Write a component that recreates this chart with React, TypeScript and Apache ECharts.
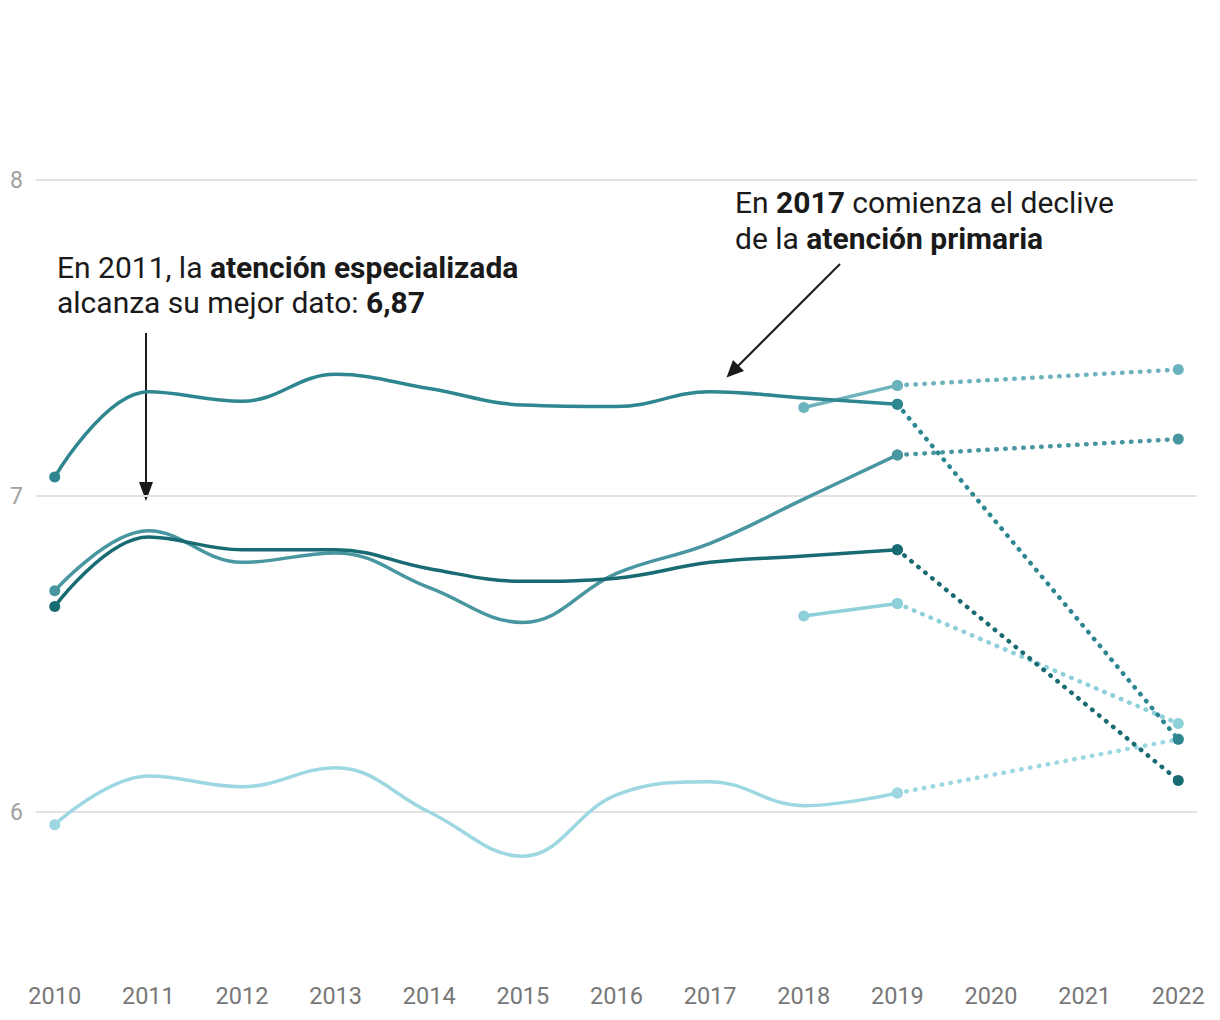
import React, { useEffect, useRef } from "react";
import * as echarts from "echarts";

const years = [2010, 2011, 2012, 2013, 2014, 2015, 2016, 2017, 2018, 2019];
const yearTicks = [2010, 2011, 2012, 2013, 2014, 2015, 2016, 2017, 2018, 2019, 2020, 2021, 2022];
const yTickLabels = [6, 7, 8];

// solid series (2010-2019)
const primaria = [7.06, 7.33, 7.3, 7.385, 7.34, 7.288, 7.283, 7.33, 7.31, 7.29];
const especializada = [6.7, 6.89, 6.79, 6.82, 6.71, 6.6, 6.755, 6.85, 6.99, 7.13];
const oscura = [6.65, 6.87, 6.83, 6.83, 6.77, 6.73, 6.74, 6.79, 6.81, 6.83];
const clara = [5.96, 6.114, 6.08, 6.14, 6.0, 5.86, 6.054, 6.096, 6.02, 6.06];
// series starting in 2018
const years2018 = [2018, 2019];
const serie5 = [7.28, 7.35];
const serie6 = [6.62, 6.66];
// 2022 values (dotted projection from 2019)
const v2022 = {
  primaria: 6.23,
  especializada: 7.18,
  oscura: 6.1,
  clara: 6.23,
  serie5: 7.4,
  serie6: 6.28,
};

const colors = {
  primaria: "#2e8790",
  especializada: "#4896a0",
  oscura: "#186b73",
  clara: "#9dd8e2",
  serie5: "#6cb3bd",
  serie6: "#8dd0d9",
};

function solid(name: string, xs: number[], ys: number[], color: string, z: number) {
  const last = ys.length - 1;
  return {
    type: "line",
    name,
    data: xs.map((x, i) => [x, ys[i]]),
    smooth: 0.4,
    symbol: "circle",
    symbolSize: (_v: any, p: any) => (p.dataIndex === 0 || p.dataIndex === last ? 11 : 0),
    lineStyle: { color, width: 3.5 },
    itemStyle: { color },
    z,
    silent: true,
  };
}

function dotted(name: string, from: number, to: number, color: string, z: number) {
  return {
    type: "line",
    name: name + " 2022",
    data: [
      [2019, from],
      [2022, to],
    ],
    symbol: "circle",
    symbolSize: 11,
    lineStyle: { color, width: 4.5, type: [0.5, 8.5], cap: "round" },
    itemStyle: { color },
    z,
    silent: true,
  };
}

export default function App() {
  const ref = useRef<HTMLDivElement>(null);
  useEffect(() => {
    if (!ref.current) return;
    const chart = echarts.init(ref.current, undefined, { renderer: "svg" });
    const font = "Roboto, 'Noto Sans', sans-serif";
    chart.setOption({
      animation: false,
      backgroundColor: "#ffffff",
      grid: { left: 36, right: 23, top: 22, bottom: 50, containLabel: false },
      xAxis: {
        type: "value",
        min: 2009.8,
        max: 2022.2,
        axisLine: { show: false },
        axisTick: { show: false },
        splitLine: { show: false },
        axisLabel: {
          customValues: yearTicks,
          formatter: (v: number) => String(v),
          color: "#777777",
          fontSize: 23.5,
          fontFamily: font,
          margin: 14,
        },
      },
      yAxis: {
        type: "value",
        min: 5.5,
        max: 8.5,
        interval: 0.5,
        axisLine: { show: false },
        axisTick: { show: false },
        axisLabel: {
          formatter: (v: number) => (yTickLabels.indexOf(v) >= 0 ? String(v) : ""),
          color: "#a0a0a0",
          fontSize: 23,
          fontFamily: font,
          margin: 13,
        },
        splitLine: {
          show: true,
          lineStyle: { color: ["rgba(0,0,0,0)", "#e2e2e2"], width: 2 },
        },
      },
      series: [
        dotted("clara", clara[clara.length - 1], v2022.clara, colors.clara, 2),
        solid("clara", years, clara, colors.clara, 3),
        dotted("serie6", serie6[1], v2022.serie6, colors.serie6, 2),
        solid("serie6", years2018, serie6, colors.serie6, 3),
        dotted("oscura", oscura[oscura.length - 1], v2022.oscura, colors.oscura, 2),
        solid("oscura", years, oscura, colors.oscura, 4),
        dotted("especializada", especializada[especializada.length - 1], v2022.especializada, colors.especializada, 2),
        solid("especializada", years, especializada, colors.especializada, 3),
        dotted("serie5", serie5[1], v2022.serie5, colors.serie5, 2),
        solid("serie5", years2018, serie5, colors.serie5, 3),
        dotted("primaria", primaria[primaria.length - 1], v2022.primaria, colors.primaria, 2),
        solid("primaria", years, primaria, colors.primaria, 4),
      ],
      graphic: [
        {
          type: "text",
          x: 57,
          y: 250,
          style: {
            text: "{r|En 2011, la }{b|atención especializada}\n{r|alcanza su mejor dato: }{b|6,87}",
            rich: {
              r: { fontSize: 30, fontFamily: font, fill: "#1a1a1a", lineHeight: 35 },
              b: { fontSize: 30, fontFamily: font, fontWeight: "bold", fill: "#1a1a1a", lineHeight: 35 },
            },
            verticalAlign: "top",
          },
        },
        {
          type: "line",
          shape: { x1: 146, y1: 333, x2: 146, y2: 484 },
          style: { stroke: "#1a1a1a", lineWidth: 2 },
        },
        {
          type: "polygon",
          shape: { points: [[139, 482], [153, 482], [146, 501]] },
          style: { fill: "#1a1a1a" },
        },
        {
          type: "text",
          x: 735,
          y: 184,
          style: {
            text: "{r|En }{b|2017}{r| comienza el declive}\n{r|de la }{b|atención primaria}",
            rich: {
              r: { fontSize: 30, fontFamily: font, fill: "#1a1a1a", lineHeight: 36 },
              b: { fontSize: 30, fontFamily: font, fontWeight: "bold", fill: "#1a1a1a", lineHeight: 36 },
            },
            verticalAlign: "top",
          },
        },
        {
          type: "line",
          shape: { x1: 840, y1: 264, x2: 737, y2: 367 },
          style: { stroke: "#1a1a1a", lineWidth: 2 },
        },
        {
          type: "polygon",
          shape: { points: [[744, 371], [733, 360], [726.5, 377.5]] },
          style: { fill: "#1a1a1a" },
        },
      ],
    });
    return () => chart.dispose();
  }, []);
  return (
    <div
      ref={ref}
      style={{ position: "absolute", left: 0, top: 0, width: 1220, height: 1020 }}
    />
  );
}
